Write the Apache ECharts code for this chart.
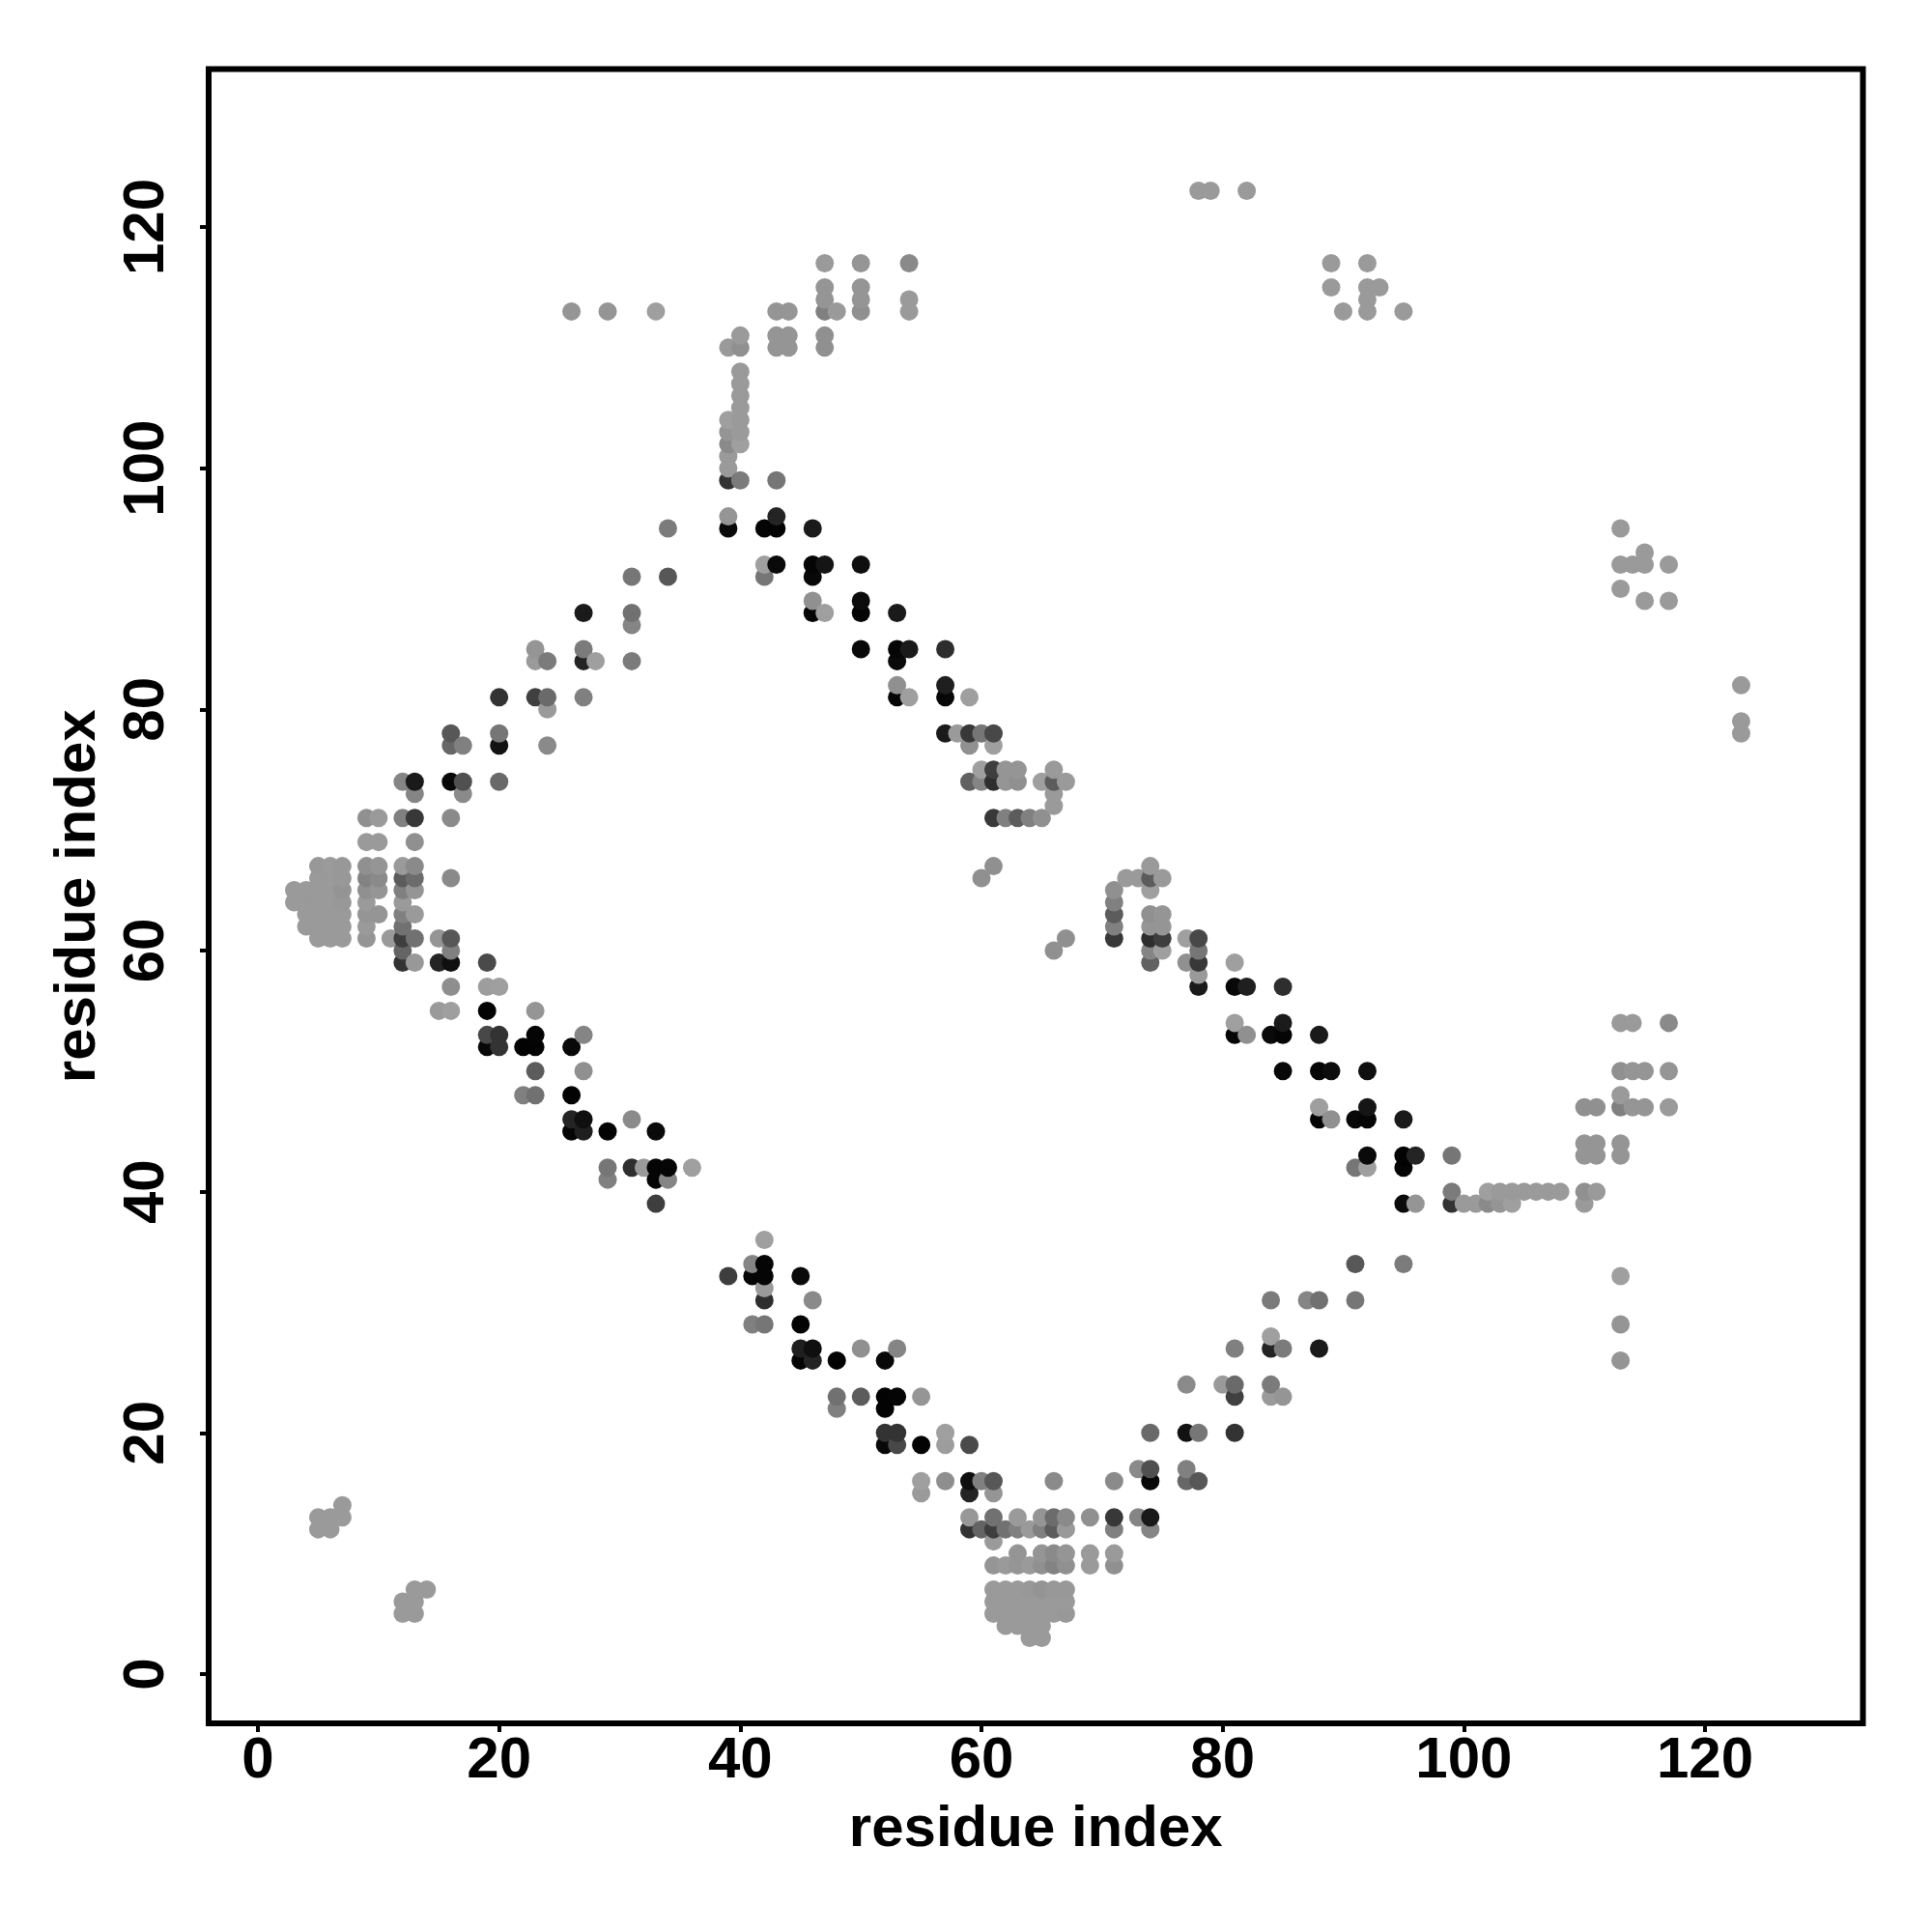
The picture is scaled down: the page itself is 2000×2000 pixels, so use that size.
<!DOCTYPE html>
<html>
<head>
<meta charset="utf-8">
<style>html,body{margin:0;padding:0;background:#fff}#c{width:2000px;height:2000px}</style>
<script src="https://cdn.jsdelivr.net/npm/echarts@6/dist/echarts.min.js"></script>
</head>
<body>
<div id="c"></div>
<script>
// Contact map: each entry is [residue i, residue j, grey shade 0-155]; the map is symmetric (i > j listed).
const nTerminalPairs = [
[12,5,150],[12,6,150],[13,5,150],[13,6,150],[13,7,150],[14,7,150]
];
const hairpinCore = [
[64,3,150],[65,3,150],
[62,4,150],[63,4,150],[64,4,150],[65,4,150],
[61,5,150],[62,5,150],[63,5,150],[64,5,150],[65,5,150],[66,5,150],[67,5,148],
[61,6,150],[62,6,150],[63,6,150],[64,6,150],[65,6,150],[66,6,150],[67,6,150],
[61,7,150],[62,7,150],[63,7,150],[64,7,148],[65,7,144],[66,7,148],[67,7,148],
[61,9,145],[62,9,150],[63,9,145],[64,9,150],[65,9,140],[66,9,128],[67,9,140],[69,9,150],[71,9,140],
[63,10,145],[65,10,145],[66,10,135],[67,10,145],[69,10,150],[71,10,150],
[61,11,150],
[59,12,50],[60,12,97],[61,12,60],[62,12,110],[63,12,125],[64,12,150],[65,12,125],[66,12,90],[67,12,150],[71,12,125],[74,12,130],
[59,13,148],[61,13,110],[63,13,150],[65,13,145],[66,13,105],[67,13,135],[69,13,140],[71,13,55],[73,13,130],[74,13,25]
];
const lowerArm = [
[42,36,155],[41,34,130],[42,34,5],[39,33,60],[41,33,5],[42,33,5],[45,33,10],
[42,32,150],[42,31,45],[46,31,135],[41,29,125],[42,29,115],[45,29,3],
[45,27,30],[46,27,15],[50,27,140],[53,27,130],[45,26,5],[46,26,35],[48,26,3],[52,26,8],
[48,23,110],[50,23,90],[52,23,3],[53,23,5],[55,23,145],[48,22,125],[52,22,3],
[52,20,50],[53,20,50],[57,20,155],[52,19,8],[53,19,70],[55,19,3],[57,19,153],[59,19,72],
[55,16,155],[57,16,138],[59,16,15],[60,16,125],[61,16,85],[55,15,150],[59,15,35],[61,15,145],
[66,16,135],[71,16,135],[74,16,8],[77,16,100],[78,16,85],
[73,17,135],[74,17,78],[77,17,125],
[74,20,102],[77,20,18],[78,20,115],[81,20,50]
];
const risingArm = [
[81,23,62],[84,23,150],[85,23,145],
[77,24,135],[80,24,150],[81,24,103],[84,24,120],
[81,27,125],[84,27,35],[85,27,120],[88,27,25],[84,28,155],
[84,31,120],[87,31,130],[88,31,110],[91,31,115],
[91,34,85],[95,34,120]
];
const foldedArm = [
[66,60,140],[67,61,140],
[74,67,150],[72,66,150],[73,66,150],[74,66,90],[75,66,150],
[71,65,140],[74,65,155],[71,64,125],[71,63,90],[74,63,140],[75,63,145],
[71,62,125],[74,62,145],[75,62,145],[71,61,55],[74,61,45],[75,61,60],[77,61,155],[78,61,70],
[74,60,130],[75,60,155],[78,60,115],[74,59,95],[77,59,140],[78,59,55],[81,59,155],
[78,58,150],[78,57,25],[81,57,8],[82,57,30],[85,57,45],
[81,54,155],[85,54,25],[81,53,5],[82,53,140],[84,53,10],[85,53,5],[88,53,25],
[85,50,8],[88,50,5],[89,50,12],[92,50,15],
[88,47,155],[92,47,20],[88,46,5],[89,46,140],[91,46,8],[92,46,5],[95,46,25],
[92,43,10],[95,43,3],[96,43,35],[99,43,115],[91,42,115],[92,42,155],[95,42,5],
[99,40,120],[95,39,10],[96,39,145],[99,39,50]
];
const tailContacts = [
[102,40,155],[103,40,150],[104,40,150],[105,40,150],[106,40,150],[107,40,150],[108,40,150],[110,40,140],[111,40,150],
[100,39,150],[101,39,150],[102,39,135],[103,39,145],[104,39,155],[110,39,150],
[110,43,145],[111,43,145],[113,43,145],[110,44,145],[111,44,145],[113,44,145],
[110,47,140],[111,47,140],[113,47,125],[114,47,145],[115,47,145],[117,47,150],[113,48,150],
[113,50,140],[114,50,145],[115,50,145],[117,50,145],
[113,54,150],[114,54,150],[117,54,135],
[113,33,155],[113,29,145],[113,26,145]
];
const farContacts = [
[113,95,150],[115,93,150],[113,92,150],[114,92,150],[115,92,150],[117,92,150],[113,90,150],[115,89,150],[117,89,150],
[123,82,150],[123,79,150],[123,78,150]
];
const tickValues = [0, 20, 40, 60, 80, 100, 120];
const axisName = 'residue index';

const halfMap = [].concat(nTerminalPairs, hairpinCore, lowerArm, risingArm, foldedArm, tailContacts, farContacts);
const points = [];
halfMap.forEach(function (p) { points.push([p[0], p[1], p[2]]); points.push([p[1], p[0], p[2]]); });
points.sort(function (a, b) { return a[0] - b[0] || a[1] - b[1]; });

const font = '"Liberation Sans", Arial, Helvetica, sans-serif';
const makeAxis = function (isY) {
  return {
    type: 'value', min: -4.09, max: 133.1,
    splitLine: { show: false }, axisLine: { show: false, onZero: false },
    name: axisName, nameLocation: 'middle',
    nameGap: isY ? 105 : 80,
    nameRotate: isY ? 90 : 0,
    nameTextStyle: { fontFamily: font, fontWeight: 'bold', fontSize: 60, color: '#000' },
    axisTick: { show: true, length: 9, lineStyle: { width: 4, color: '#000' }, customValues: tickValues },
    axisLabel: {
      show: true, customValues: tickValues, margin: isY ? 34 : 9,
      rotate: isY ? 90 : 0, color: '#000',
      fontFamily: font, fontWeight: 'bold', fontSize: 60,
      verticalAlign: isY ? 'bottom' : 'top', align: 'center'
    }
  };
};

const chart = echarts.init(document.getElementById('c'), null, { renderer: 'canvas', width: 2000, height: 2000 });
chart.setOption({
  animation: false,
  backgroundColor: '#fff',
  grid: { show: true, left: 216, top: 71.5, width: 1712.5, height: 1712.5, borderWidth: 6, borderColor: '#000', backgroundColor: 'transparent', containLabel: false },
  xAxis: makeAxis(false),
  yAxis: makeAxis(true),
  visualMap: { show: false, type: 'continuous', dimension: 2, min: 0, max: 155, inRange: { color: ['#000000', '#9f9f9f'] } },
  series: [{
    type: 'scatter', data: points, symbol: 'circle', symbolSize: 19,
    large: false, progressive: 0, silent: true, clip: true,
    itemStyle: { opacity: 1, borderWidth: 0 }
  }]
});
</script>
</body>
</html>
